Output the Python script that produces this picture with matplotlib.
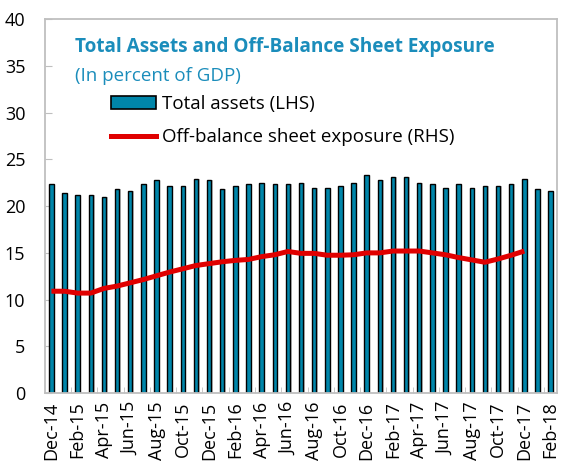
import matplotlib
matplotlib.use("Agg")
import matplotlib.pyplot as plt
from matplotlib.patches import Patch
from matplotlib.lines import Line2D
import numpy as np

plt.rcParams['font.family'] = ['Open Sans', 'DejaVu Sans']

# monthly data, Dec-14 .. Feb-18
months = ["Dec-14", "Jan-15", "Feb-15", "Mar-15", "Apr-15", "May-15", "Jun-15", "Jul-15",
          "Aug-15", "Sep-15", "Oct-15", "Nov-15", "Dec-15", "Jan-16", "Feb-16", "Mar-16",
          "Apr-16", "May-16", "Jun-16", "Jul-16", "Aug-16", "Sep-16", "Oct-16", "Nov-16",
          "Dec-16", "Jan-17", "Feb-17", "Mar-17", "Apr-17", "May-17", "Jun-17", "Jul-17",
          "Aug-17", "Sep-17", "Oct-17", "Nov-17", "Dec-17", "Jan-18", "Feb-18"]

total_assets = [22.35, 21.4, 21.2, 21.2, 21.0, 21.8, 21.6, 22.35, 22.75, 22.2,
                22.2, 22.9, 22.75, 21.8, 22.2, 22.35, 22.5, 22.35, 22.35, 22.5,
                21.95, 21.95, 22.2, 22.5, 23.3, 22.75, 23.15, 23.15, 22.5, 22.35,
                21.95, 22.35, 21.95, 22.2, 22.2, 22.35, 22.9, 21.8, 21.6]

# off-balance sheet exposure (RHS), ends Dec-17
off_balance = [10.9, 10.9, 10.7, 10.7, 11.2, 11.45, 11.8, 12.15, 12.55, 12.95,
               13.3, 13.65, 13.85, 14.05, 14.2, 14.3, 14.6, 14.8, 15.15, 14.95,
               14.95, 14.75, 14.75, 14.8, 15.0, 15.0, 15.2, 15.2, 15.2, 15.0,
               14.8, 14.5, 14.25, 14.0, 14.35, 14.75, 15.2]

title = "Total Assets and Off-Balance Sheet Exposure"
subtitle = "(In percent of GDP)"
blue = "#0086AA"
title_col = "#1B8DBB"

fig = plt.figure(figsize=(5.75, 4.68), dpi=100)
ax = fig.add_axes([0.078, 0.160, 0.891, 0.799])

x = np.arange(len(months))
# soft shadow behind bars
ax.bar(x + 0.1, total_assets, width=0.36, color="#c4c4c4", zorder=1)
ax.bar(x, total_assets, width=0.34, color=blue, edgecolor="black", linewidth=1.0, zorder=2)
ax.plot(x[:len(off_balance)], off_balance, color="#E00000", linewidth=3.6,
        solid_capstyle="butt", zorder=3)

ax.set_xlim(-0.5, len(months) - 0.5)
ax.set_ylim(0, 40)
ax.set_yticks(range(0, 41, 5))
ax.set_xticks(x[::2])
ax.set_xticklabels(months[::2], rotation=90)
ax.set_xticks(np.arange(1.5, len(months), 2), minor=True)

for s in ax.spines.values():
    s.set_color("#bfbfbf")
    s.set_linewidth(1.3)
ax.tick_params(axis="y", direction="in", length=5, color="#bfbfbf", labelsize=13, pad=14)
ax.tick_params(axis="x", which="major", length=0, labelsize=13, pad=6)
ax.tick_params(axis="x", which="minor", direction="in", length=4, color="#bfbfbf")

ax.text(0.059, 0.912, title, transform=ax.transAxes, fontsize=13.7, fontweight="bold",
        color=title_col, va="baseline")
ax.text(0.059, 0.834, subtitle, transform=ax.transAxes, fontsize=13.5,
        color=title_col, va="baseline")

handles = [Patch(facecolor=blue, edgecolor="black", linewidth=1.2),
           Line2D([], [], color="#E00000", linewidth=3.6)]
ax.legend(handles, ["Total assets (LHS)", "Off-balance sheet exposure (RHS)"],
          loc="upper left", bbox_to_anchor=(0.13, 0.797), frameon=False, fontsize=13.5,
          handlelength=2.4, handleheight=0.65, handletextpad=0.3, labelspacing=0.82,
          borderpad=0, borderaxespad=0)

fig.savefig("out.png", dpi=100)
